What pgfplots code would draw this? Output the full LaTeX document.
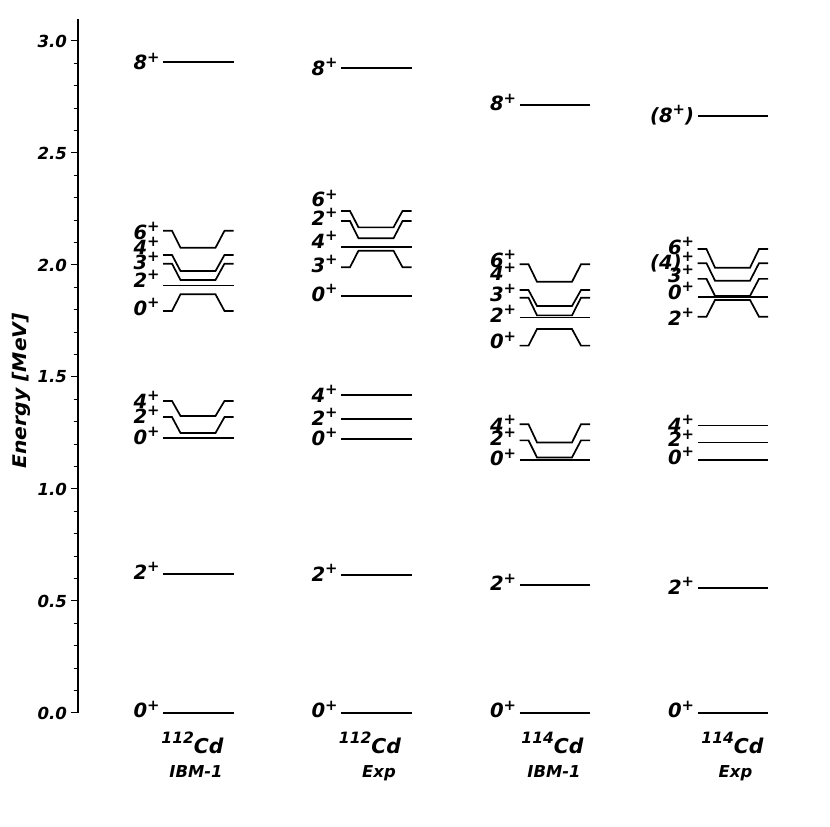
\documentclass[border=0pt]{standalone}
\usepackage{fontspec}
\setmainfont{DejaVu Sans}[ItalicFont={DejaVu Sans Oblique},BoldFont={DejaVu Sans Bold},BoldItalicFont={DejaVu Sans Bold Oblique}]
\usepackage{graphicx}
\usepackage{pgfplots}
\pgfplotsset{compat=1.18}

\tikzset{
  lvl/.style={black, line width=0.85pt, mark=none},
  lab/.style={anchor=base east, inner sep=0, xshift=-1.5pt,
    font=\fontsize{9.8}{11}\selectfont\bfseries\itshape},
}
% superscript plus of the spin labels
\newcommand\pls{\raisebox{0.40em}{\fontsize{7.4}{7}\selectfont +}}
% one level: left x, energy of the outer ends, energy of the middle part
\newcommand\lev[3]{%
  \pgfmathsetmacro\xa{#1+9}\pgfmathsetmacro\xb{#1+17.5}%
  \pgfmathsetmacro\xc{#1+52.5}\pgfmathsetmacro\xd{#1+61.5}\pgfmathsetmacro\xe{#1+70.5}%
  \addplot[lvl] coordinates {(#1,#2) (\xa,#2) (\xb,#3) (\xc,#3) (\xd,#2) (\xe,#2)};}
\newcommand\lab[3]{\node[lab] at (axis cs:#1,#2) {#3};}
\newcommand\nuc[4]{%
  \node[anchor=base,inner sep=0,font=\fontsize{10.2}{11}\selectfont\bfseries\itshape] at (axis cs:#1,-0.183) {\raisebox{5pt}{\fontsize{7.8}{8}\selectfont #3}Cd};
  \node[anchor=base,inner sep=0,font=\fontsize{8.2}{9}\selectfont\bfseries\itshape] at (axis cs:#2,-0.286) {#4};}

\begin{document}
\begin{tikzpicture}
\begin{axis}[
  scale only axis, width=361pt, height=347.2pt,
  xmin=78, xmax=800, ymin=0, ymax=3.1,
  axis y line=left, axis x line=none, axis line style={-, line width=0.75pt},
  ytick={0,0.5,...,3.0}, minor y tick num=4,
  tick align=outside, major tick length=3.5pt, minor tick length=2pt,
  tick style={line width=0.5pt, black},
  yticklabel style={font=\fontsize{8.3}{9}\selectfont\bfseries\itshape, xshift=1.5pt,
    /pgf/number format/.cd, fixed, fixed zerofill, precision=1, assume math mode=true},
  ylabel={\scalebox{1.08}[1]{Energy [MeV]}},
  ylabel style={at={(axis description cs:-0.079,0.464)}, anchor=center,
    font=\fontsize{9.4}{10}\selectfont\bfseries\itshape},
  clip=false,
]
% 112Cd IBM-1
\lev{163}{0}{0} \lev{163}{0.6205}{0.6205} \lev{163}{1.228}{1.228}
\lev{163}{1.321}{1.250} \lev{163}{1.393}{1.326}
\lev{163}{1.795}{1.869} \lev{163}{1.908}{1.908} \lev{163}{2.006}{1.933}
\lev{163}{2.045}{1.973} \lev{163}{2.153}{2.077} \lev{163}{2.906}{2.906}
% 112Cd Exp
\lev{341}{0}{0} \lev{341}{0.616}{0.616} \lev{341}{1.223}{1.223}
\lev{341}{1.311}{1.311} \lev{341}{1.420}{1.420}
\lev{341}{1.863}{1.863} \lev{341}{1.990}{2.064} \lev{341}{2.080}{2.080}
\lev{341}{2.196}{2.119} \lev{341}{2.241}{2.168} \lev{341}{2.879}{2.879}
% 114Cd IBM-1
\lev{519.5}{0}{0} \lev{519.5}{0.571}{0.571} \lev{519.5}{1.128}{1.128}
\lev{519.5}{1.217}{1.141} \lev{519.5}{1.289}{1.208}
\lev{519.5}{1.640}{1.714} \lev{519.5}{1.765}{1.765} \lev{519.5}{1.854}{1.775}
\lev{519.5}{1.888}{1.817} \lev{519.5}{2.003}{1.925} \lev{519.5}{2.714}{2.714}
% 114Cd Exp
\lev{697.5}{0}{0} \lev{697.5}{0.558}{0.558} \lev{697.5}{1.129}{1.129}
\lev{697.5}{1.208}{1.208} \lev{697.5}{1.283}{1.283}
\lev{697.5}{1.769}{1.844} \lev{697.5}{1.857}{1.857} \lev{697.5}{1.938}{1.862}
\lev{697.5}{2.008}{1.930} \lev{697.5}{2.071}{1.988} \lev{697.5}{2.665}{2.665}

% spin labels
\lab{163}{2.871}{8\pls} \lab{163}{2.116}{6\pls} \lab{163}{2.049}{4\pls}
\lab{163}{1.981}{3\pls} \lab{163}{1.899}{2\pls} \lab{163}{1.774}{0\pls}
\lab{163}{1.358}{4\pls} \lab{163}{1.292}{2\pls} \lab{163}{1.198}{0\pls}
\lab{163}{0.598}{2\pls} \lab{163}{-0.022}{0\pls}

\lab{341}{2.848}{8\pls} \lab{341}{2.259}{6\pls} \lab{341}{2.177}{2\pls}
\lab{341}{2.073}{4\pls} \lab{341}{1.966}{3\pls} \lab{341}{1.839}{0\pls}
\lab{341}{1.388}{4\pls} \lab{341}{1.284}{2\pls} \lab{341}{1.193}{0\pls}
\lab{341}{0.589}{2\pls} \lab{341}{-0.022}{0\pls}

\lab{519.5}{2.688}{8\pls} \lab{519.5}{1.991}{6\pls} \lab{519.5}{1.930}{4\pls}
\lab{519.5}{1.839}{3\pls} \lab{519.5}{1.742}{2\pls} \lab{519.5}{1.625}{0\pls}
\lab{519.5}{1.254}{4\pls} \lab{519.5}{1.195}{2\pls} \lab{519.5}{1.103}{0\pls}
\lab{519.5}{0.545}{2\pls} \lab{519.5}{-0.022}{0\pls}

\lab{697.5}{2.638}{(8\pls)} \lab{697.5}{2.048}{6\pls} \lab{697.5}{1.981}{(4)\pls}
\lab{697.5}{1.921}{3\pls} \lab{697.5}{1.847}{0\pls} \lab{697.5}{1.729}{2\pls}
\lab{697.5}{1.254}{4\pls} \lab{697.5}{1.188}{2\pls} \lab{697.5}{1.110}{0\pls}
\lab{697.5}{0.531}{2\pls} \lab{697.5}{-0.022}{0\pls}

% nucleus and model names
\nuc{192.5}{196}{112}{IBM-1}
\nuc{370}{379}{112}{Exp}
\nuc{552.5}{554}{114}{IBM-1}
\nuc{732.5}{735.5}{114}{Exp}

\coordinate (bl) at (axis cs:0,-0.5045);
\coordinate (tr) at (axis cs:830,3.183);
\end{axis}
\pgfresetboundingbox
\path[use as bounding box] (bl) rectangle (tr);
\end{tikzpicture}
\end{document}
